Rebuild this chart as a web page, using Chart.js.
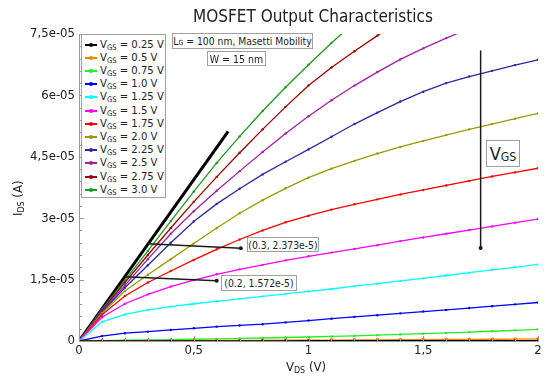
<!DOCTYPE html>
<html><head><meta charset="utf-8">
<script src="https://cdn.jsdelivr.net/npm/chart.js@4"></script>
<style>
html,body{margin:0;padding:0;background:#fff;}
#wrap{position:relative;width:550px;height:390px;font-family:"DejaVu Sans Condensed","DejaVu Sans",sans-serif;color:#222;overflow:hidden;}
canvas{position:absolute;left:0;top:0;}
.t{position:absolute;white-space:nowrap;}
.box{position:absolute;box-sizing:border-box;border:1px solid #a0a0a0;background:#fff;white-space:nowrap;display:flex;align-items:center;justify-content:center;}
.sub{font-size:68%;position:relative;top:0.28em;}
#legend{position:absolute;left:81px;top:34px;width:85px;height:164px;box-sizing:border-box;border:1px solid #a0a0a0;background:#fff;}
.row{position:absolute;left:0;height:13px;line-height:13px;font-size:11.2px;white-space:nowrap;}
.ln{position:absolute;left:3px;top:6px;width:12px;height:2px;}
.mk{position:absolute;left:7px;top:5px;width:4px;height:4px;border-radius:2px;}
.lt{position:absolute;left:18px;top:0;}
</style></head>
<body><div id="wrap"><canvas id="c" width="550" height="390"></canvas>
<div class="t" id="title" style="left:0;width:626px;top:6px;text-align:center;font-size:17px;">MOSFET Output Characteristics</div>
<div class="t" style="left:286px;top:359px;font-size:13px;">V<span class="sub">DS</span> (V)</div>
<div class="t" style="left:10px;top:216px;font-size:13px;transform-origin:0 0;transform:rotate(-90deg);">I<span class="sub">DS</span> (A)</div>
<div id="legend"></div>
<div class="box" style="left:172px;top:33px;width:141px;height:16px;font-size:10.3px;">L<span class="sub">G</span>&nbsp;= 100 nm, Masetti Mobility</div>
<div class="box" style="left:207px;top:51px;width:59px;height:15px;font-size:10.5px;">W = 15 nm</div>
<div class="box" style="left:486px;top:140px;width:34px;height:27px;font-size:18px;">V<span class="sub">GS</span></div>
<div class="box" style="left:221px;top:275px;width:76px;height:16px;font-size:10.3px;">(0.2, 1.572e-5)</div>
<div class="box" style="left:247px;top:237px;width:72px;height:15px;font-size:10.3px;">(0.3, 2.373e-5)</div>
</div>
<script>
// ---- data (currents in units of 1e-5 A) ----
const vds = [0,0.1,0.2,0.3,0.4,0.5,0.6,0.7,0.8,0.9,1.0,1.1,1.2,1.3,1.4,1.5,1.6,1.7,1.8,1.9,2.0];
const vgsLabels = ['0.25','0.5','0.75','1.0','1.25','1.5','1.75','2.0','2.25','2.5','2.75','3.0'];
const colors = ['#000000','#ff8000','#22ee22','#0000ff','#00ffff','#ff00ff','#ff0000','#9a9a00','#2a2aa8','#a020a8','#a00000','#1c9c1c'];
const ids025 = [0,0.001,0.002,0.002,0.003,0.003,0.004,0.004,0.005,0.005,0.006,0.006,0.007,0.007,0.008,0.008,0.009,0.009,0.010,0.010,0.011];
const ids050 = [0,0.003,0.005,0.007,0.009,0.011,0.013,0.015,0.017,0.019,0.021,0.023,0.025,0.028,0.031,0.034,0.037,0.040,0.043,0.047,0.051];
const ids075 = [0,0.010,0.018,0.026,0.034,0.043,0.052,0.062,0.073,0.085,0.098,0.112,0.127,0.143,0.160,0.178,0.197,0.217,0.238,0.260,0.285];
const ids100 = [0,0.12,0.19,0.23,0.27,0.31,0.35,0.38,0.41,0.455,0.50,0.545,0.59,0.63,0.675,0.72,0.76,0.805,0.85,0.895,0.94];
const ids125 = [0,0.47,0.65,0.76,0.84,0.91,0.97,1.03,1.09,1.15,1.21,1.27,1.34,1.40,1.47,1.53,1.60,1.67,1.74,1.80,1.87];
const ids150 = [0,0.58,0.91,1.14,1.33,1.49,1.63,1.75,1.86,1.97,2.07,2.16,2.25,2.34,2.44,2.53,2.62,2.71,2.80,2.89,2.98];
const ids175 = [0,0.64,1.10,1.43,1.71,1.98,2.24,2.48,2.70,2.90,3.06,3.21,3.34,3.46,3.58,3.69,3.80,3.91,4.02,4.12,4.22];
const ids200 = [0,0.68,1.22,1.62,2.00,2.38,2.76,3.12,3.44,3.73,3.99,4.21,4.40,4.58,4.74,4.89,5.03,5.17,5.30,5.43,5.56];
const ids225 = [0,0.71,1.30,1.85,2.40,2.92,3.35,3.72,4.07,4.38,4.68,4.99,5.30,5.58,5.85,6.09,6.30,6.46,6.60,6.74,6.87];
const ids250 = [0,0.73,1.36,2.00,2.62,3.17,3.67,4.15,4.62,5.07,5.49,5.88,6.24,6.57,6.88,7.15,7.40,7.63];
const ids275 = [0,0.75,1.43,2.10,2.76,3.40,4.01,4.60,5.17,5.72,6.24,6.68,7.08,7.46,7.82];
const ids300 = [0,0.77,1.48,2.20,2.93,3.65,4.35,5.00,5.62,6.20,6.75,7.28,7.79];
const series = [ids025,ids050,ids075,ids100,ids125,ids150,ids175,ids200,ids225,ids250,ids275,ids300];
// tangent line in the linear region
const tangentX = [0,0.65];
const tangentY = [0,5.12];
// annotations: data point -> label anchor
const annPointX = [0.2,0.3];
const annPointY = [1.572,2.373];
const annEndX = [0.600,0.705];
const annEndY = [1.474,2.267];
// V_GS arrow
const vgsArrowX = 1.75;
const vgsArrowY = [7.10,2.27];
// ticks
const xTickLabels = ['0','0,5','1','1,5','2'];
const yTickLabels = ['0','1,5e-05','3e-05','4,5e-05','6e-05','7,5e-05'];
const SCALE = 1e-5;

// legend
const leg = document.getElementById('legend');
vgsLabels.forEach((l,i)=>{
  const r = document.createElement('div');
  r.className='row';
  r.style.top = (2.5 + i*13.2)+'px';
  r.innerHTML = '<span class="ln" style="background:'+colors[i]+'"></span>'+
    '<span class="mk" style="background:'+colors[i]+'"></span>'+
    '<span class="lt">V<span class="sub">GS</span> = '+l+' V</span>';
  leg.appendChild(r);
});

const datasets = series.map((s,i)=>({
  label: 'VGS = '+vgsLabels[i]+' V',
  data: s.map((v,j)=>({x:vds[j], y:v*SCALE})),
  borderColor: colors[i],
  backgroundColor: colors[i],
  borderWidth: 1.3,
  pointRadius: i===1 ? 2.2 : 1.2,
  pointStyle: i===1 ? 'rect' : 'circle',
  pointBorderWidth: 0,
  tension: 0
}));
datasets.push({
  label: 'tangent',
  data: tangentX.map((x,j)=>({x:x, y:tangentY[j]*SCALE})),
  borderColor:'#000', borderWidth:3, pointRadius:0, tension:0
});

const extras = {
  id:'extras',
  afterDatasetsDraw(chart){
    const ctx = chart.ctx, xs = chart.scales.x, ys = chart.scales.y;
    ctx.save();
    // inside ticks
    ctx.strokeStyle = '#999'; ctx.lineWidth = 1;
    const bottom = ys.getPixelForValue(0), left = xs.getPixelForValue(0);
    for(let k=0;k<=25;k++){
      const y = Math.round(ys.getPixelForValue(k*0.3*SCALE))+0.5;
      const len = (k%5===0)?5:3;
      ctx.beginPath(); ctx.moveTo(left,y); ctx.lineTo(left+len,y); ctx.stroke();
    }
    for(let k=0;k<=20;k++){
      const x = Math.round(xs.getPixelForValue(k*0.1))+0.5;
      const len = (k%5===0)?5:3;
      ctx.beginPath(); ctx.moveTo(x,bottom); ctx.lineTo(x,bottom-len); ctx.stroke();
    }
    // annotation arrows
    ctx.strokeStyle = '#1a1a1a'; ctx.fillStyle = '#1a1a1a'; ctx.lineWidth = 1.5;
    for(let i=0;i<annPointX.length;i++){
      const x0 = xs.getPixelForValue(annPointX[i]), y0 = ys.getPixelForValue(annPointY[i]*SCALE);
      const x1 = xs.getPixelForValue(annEndX[i]), y1 = ys.getPixelForValue(annEndY[i]*SCALE);
      ctx.beginPath(); ctx.moveTo(x0,y0); ctx.lineTo(x1,y1); ctx.stroke();
      ctx.beginPath(); ctx.arc(x1,y1,2,0,Math.PI*2); ctx.fill();
    }
    const ax = xs.getPixelForValue(vgsArrowX);
    const ay0 = ys.getPixelForValue(vgsArrowY[0]*SCALE), ay1 = ys.getPixelForValue(vgsArrowY[1]*SCALE);
    ctx.beginPath(); ctx.moveTo(ax,ay0); ctx.lineTo(ax,ay1); ctx.stroke();
    ctx.beginPath(); ctx.arc(ax,ay1,2,0,Math.PI*2); ctx.fill();
    ctx.restore();
  }
};

Chart.defaults.font.family = '"DejaVu Sans Condensed","DejaVu Sans",sans-serif';
Chart.defaults.color = '#222';
new Chart(document.getElementById('c'), {
  type:'line',
  data:{datasets},
  options:{
    responsive:false, animation:false,
    layout:{padding:{left:0,right:12,top:34,bottom:0}},
    plugins:{legend:{display:false}, tooltip:{enabled:false}, title:{display:false}},
    scales:{
      x:{type:'linear', min:0, max:2,
        ticks:{stepSize:0.5, padding:2, font:{size:13}, maxRotation:0,
          callback:(v,i)=>xTickLabels[i]},
        grid:{drawOnChartArea:false, drawTicks:false},
        border:{color:'#999', width:1},
        afterFit:(s)=>{s.height=49;}},
      y:{type:'linear', min:0, max:7.5*SCALE,
        ticks:{stepSize:1.5*SCALE, padding:4, font:{size:13},
          callback:(v,i)=>yTickLabels[i]},
        grid:{drawOnChartArea:false, drawTicks:false},
        border:{color:'#999', width:1},
        afterFit:(s)=>{s.width=79;}}
    }
  },
  plugins:[extras]
});
</script>
</body></html>
